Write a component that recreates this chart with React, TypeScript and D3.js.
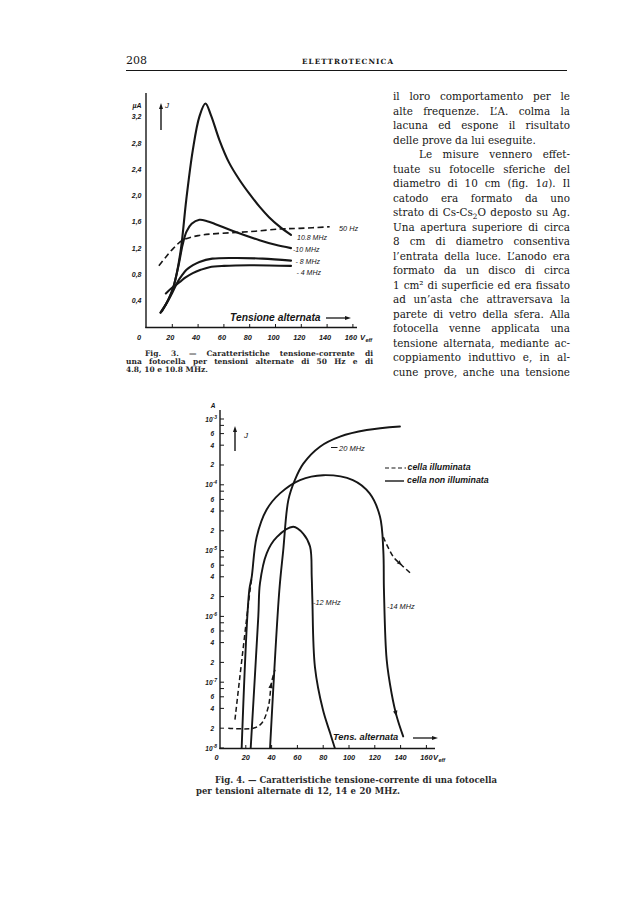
import React from 'react';
import * as d3 from 'd3';

type P = [number, number];

// ---------------- DATA ----------------
const HEADER_PAGE = '208';
const HEADER_TITLE = 'ELETTROTECNICA';

const X_TICKS = [0, 20, 40, 60, 80, 100, 120, 140, 160];

// Fig. 3 (linear, µA)
const F3_Y_TICKS = [0.4, 0.8, 1.2, 1.6, 2.0, 2.4, 2.8, 3.2];
const F3_Y_LABELS = ['0,4', '0,8', '1,2', '1,6', '2,0', '2,4', '2,8', '3,2'];

const F3_10_8: P[] = [[10.9, 0.22], [16, 0.38], [20, 0.55], [23.5, 0.82], [26.9, 1.22], [30.8, 1.93], [35.9, 2.69], [41, 3.2], [45.7, 3.4], [50, 3.22], [56.6, 2.84], [64, 2.5], [72, 2.24], [80, 2.02], [87.6, 1.83], [95, 1.67], [103, 1.53], [112, 1.4]];
const F3_10: P[] = [[12, 0.24], [17, 0.42], [21, 0.62], [25, 0.95], [28, 1.25], [31, 1.45], [35, 1.57], [41, 1.63], [47, 1.61], [54, 1.56], [67, 1.46], [87.6, 1.32], [100, 1.25], [112, 1.2]];
const F3_8: P[] = [[10.9, 0.22], [15, 0.34], [20, 0.52], [24, 0.68], [28, 0.8], [31, 0.87], [36, 0.94], [41, 0.99], [51, 1.04], [70, 1.05], [90, 1.04], [112, 1.01]];
const F3_4: P[] = [[15, 0.51], [20, 0.6], [25.6, 0.68], [30, 0.75], [35.9, 0.82], [42, 0.87], [48.8, 0.91], [60, 0.93], [80, 0.94], [112, 0.93]];
const F3_50HZ: P[] = [[9.6, 0.93], [15.2, 1.07], [21, 1.2], [28, 1.32], [40, 1.39], [54, 1.42], [80, 1.45], [103, 1.49], [118.6, 1.5], [142, 1.525]];
const F3_LABELS = ['50 Hz', '10.8 MHz', '-10 MHz', '- 8 MHz', '- 4 MHz'];

// Fig. 4 (log, A)
const F4_DECADES = [-8, -7, -6, -5, -4, -3];
const F4_MINOR = [2, 4, 6, 8];
const F4_MINOR_LABELED = [2, 4, 6];

const F4_14: P[] = [[16.8, 1e-8], [22.7, 2.5e-6], [24.6, 4e-6], [28.4, 1.6e-5], [36.2, 4.2e-5], [46.5, 7.4e-5], [62, 1.18e-4], [80, 1.4e-4], [103, 1.18e-4], [116, 7.4e-5], [124, 3.3e-5], [126.6, 1e-5], [127.1, 2.5e-6], [129.2, 2.2e-7], [133, 6.8e-8], [137, 3e-8], [142, 1.5e-8]];
const F4_12: P[] = [[23.8, 1e-8], [29.7, 1e-6], [31, 3.2e-6], [36.2, 9.1e-6], [44, 1.6e-5], [56.8, 2.3e-5], [64.6, 1.8e-5], [69.8, 1.15e-5], [71.1, 4e-6], [71.6, 1.8e-6], [73.6, 1.7e-7], [79.8, 3.8e-8], [85.3, 1.7e-8], [89, 1e-8]];
const F4_20: P[] = [[38.8, 1e-8], [46, 2.5e-6], [49, 1e-5], [53, 5.9e-5], [58, 1.18e-4], [64.6, 2.1e-4], [77.5, 3.8e-4], [93, 5.4e-4], [113.7, 6.8e-4], [139.5, 7.7e-4]];
const F4_14_ILL_L: P[] = [[11.6, 2.7e-8], [23.3, 2.5e-6], [24.8, 4e-6]];
const F4_20_ILL: P[] = [[6.4, 2e-8], [25.8, 2e-8], [32.3, 2.37e-8], [37.4, 4.2e-8], [40, 1e-7], [42.6, 1.55e-7]];
const F4_14_ILL_R: P[] = [[126.6, 1.6e-5], [134.3, 8.1e-6], [140.9, 6e-6], [147.3, 4.6e-6]];
const F4_LEGEND = ['cella illuminata', 'cella non illuminata'];

// Text
const BODY = [
  'il loro comportamento per le',
  'alte frequenze. L’A. colma la',
  'lacuna ed espone il risultato',
  'delle prove da lui eseguite.',
  'Le misure vennero effet-',
  'tuate su fotocelle sferiche del',
  'diametro di 10 cm (fig. 1_a_). Il',
  'catodo era formato da uno',
  'strato di Cs-Cs~2~O deposto su Ag.',
  'Una apertura superiore di circa',
  '8 cm di diametro consentiva',
  'l’entrata della luce. L’anodo era',
  'formato da un disco di circa',
  '1 cm² di superficie ed era fissato',
  'ad un’asta che attraversava la',
  'parete di vetro della sfera. Alla',
  'fotocella venne applicata una',
  'tensione alternata, mediante ac-',
  'coppiamento induttivo e, in al-',
  'cune prove, anche una tensione',
];
const CAPTION3 = [
  'Fig. 3. — Caratteristiche tensione-corrente di',
  'una fotocella per tensioni alternate di 50 Hz e di',
  '4.8, 10 e 10.8 MHz.',
];
const CAPTION4 = [
  'Fig. 4. — Caratteristiche tensione-corrente di una fotocella',
  'per tensioni alternate di 12, 14 e 20 MHz.',
];

// ---------------- HELPERS ----------------
const INK = '#161616';
const SERIF_NAME = 'DejaVu Serif';
const SERIF = "'DejaVu Serif', 'Liberation Serif', serif";
const SANS = "'Liberation Sans', 'DejaVu Sans', sans-serif";

let ctx: CanvasRenderingContext2D | null = null;
function measure(t: string, font: string) {
  if (!ctx) ctx = document.createElement('canvas').getContext('2d');
  ctx!.font = font;
  return ctx!.measureText(t).width;
}

type Run = { t: string; k: 'n' | 'i' | 'sub' | 'sup' };
function parseRuns(word: string): Run[] {
  return word
    .split(/(_[^_]+_|~[^~]+~|\^[^^]+\^)/)
    .filter((s) => s.length)
    .map((p) => {
      if (p.length > 2 && p[0] === '_' && p[p.length - 1] === '_') return { t: p.slice(1, -1), k: 'i' as const };
      if (p.length > 2 && p[0] === '~') return { t: p.slice(1, -1), k: 'sub' as const };
      if (p.length > 2 && p[0] === '^') return { t: p.slice(1, -1), k: 'sup' as const };
      return { t: p, k: 'n' as const };
    });
}

function runFont(r: Run, size: number, weight: string) {
  const s = r.k === 'sub' || r.k === 'sup' ? size * 0.7 : size;
  const st = r.k === 'i' ? 'italic' : 'normal';
  return `${st} ${weight} ${s}px '${SERIF_NAME}'`;
}

function Line(props: { text: string; x0: number; x1: number; y: number; size: number; weight?: string; justify?: boolean; fill?: string }) {
  const { text, x0, x1, y, justify } = props;
  let size = props.size;
  const weight = props.weight || 'normal';
  const words = text.split(' ');
  const parsed = words.map(parseRuns);
  const calc = (s: number) => {
    const widths = parsed.map((runs) => runs.reduce((a, r) => a + measure(r.t, runFont(r, s, weight)), 0));
    const total = widths.reduce((a, b) => a + b, 0);
    const space = measure(' ', `normal ${weight} ${s}px '${SERIF_NAME}'`);
    return { widths, total, space };
  };
  let m = calc(size);
  const minGap = m.space * 0.7;
  const need = m.total + minGap * (words.length - 1);
  if (need > x1 - x0) {
    size = size * ((x1 - x0) / need);
    m = calc(size);
  }
  const gap = justify && words.length > 1 ? (x1 - x0 - m.total) / (words.length - 1) : m.space;
  let cx = x0;
  return (
    <g fontFamily={SERIF} fontSize={size} fontWeight={weight} fill={props.fill || INK}>
      {parsed.map((runs, i) => {
        const xx = cx;
        cx += m.widths[i] + gap;
        let off = 0;
        return (
          <text key={i} x={xx} y={y}>
            {runs.map((r, j) => {
              let target = 0;
              if (r.k === 'sub') target = size * 0.28;
              if (r.k === 'sup') target = -size * 0.38;
              const dy = target - off;
              off = target;
              return (
                <tspan key={j} dy={dy} fontStyle={r.k === 'i' ? 'italic' : 'normal'} fontSize={r.k === 'sub' || r.k === 'sup' ? size * 0.7 : size}>
                  {r.t}
                </tspan>
              );
            })}
          </text>
        );
      })}
    </g>
  );
}

function arrowHead(x: number, y: number, ang: number, len = 5, w = 2.2) {
  const bx = x - Math.cos(ang) * len;
  const by = y - Math.sin(ang) * len;
  const nx = -Math.sin(ang) * w;
  const ny = Math.cos(ang) * w;
  return `${x},${y} ${bx + nx},${by + ny} ${bx - nx},${by - ny}`;
}

// ---------------- FIG 3 ----------------
function Fig3() {
  const x = d3.scaleLinear().domain([0, 160]).range([146.5, 352.9]);
  const y = d3.scaleLinear().domain([0, 3.2]).range([327, 116.6]);
  const line = d3
    .line<P>()
    .x((d) => x(d[0]))
    .y((d) => y(d[1]))
    .curve(d3.curveCatmullRom.alpha(0.5));
  const lab = { fontFamily: SANS, fontStyle: 'italic', fill: INK } as const;
  return (
    <g>
      <line x1={146} y1={93} x2={146} y2={328} stroke={INK} strokeWidth={1.4} />
      <line x1={145.3} y1={327.5} x2={357} y2={327.5} stroke={INK} strokeWidth={1.4} />
      {X_TICKS.filter((v) => v > 0).map((v) => (
        <line key={v} x1={x(v)} x2={x(v)} y1={327.5} y2={324} stroke={INK} strokeWidth={1} />
      ))}
      {X_TICKS.map((v) => (
        <text key={v} x={v === 0 ? 139 : x(v) - 2} y={339.5} textAnchor="middle" fontSize={7.3} fontWeight="bold" {...lab}>
          {v}
        </text>
      ))}
      <text x={360} y={339.5} fontSize={7.5} fontWeight="bold" {...lab}>V</text>
      <text x={365.5} y={341.5} fontSize={5.5} fontWeight="bold" {...lab}>eff</text>
      {F3_Y_TICKS.map((v, i) => (
        <text key={v} x={141.5} y={y(v) + 2.6} textAnchor="end" fontSize={7} fontWeight="bold" {...lab}>
          {F3_Y_LABELS[i]}
        </text>
      ))}
      <text x={141.5} y={107.5} textAnchor="end" fontSize={7} fontWeight="bold" {...lab}>µA</text>
      <line x1={161} y1={130} x2={161} y2={108} stroke={INK} strokeWidth={1.4} />
      <polygon points={arrowHead(161, 103, -Math.PI / 2, 6, 2)} fill={INK} />
      <text x={165} y={108} fontSize={8} {...lab}>J</text>

      {[F3_10_8, F3_10, F3_8, F3_4].map((d, i) => (
        <path key={i} d={line(d) || ''} fill="none" stroke={INK} strokeWidth={2.1} strokeLinecap="round" strokeLinejoin="round" />
      ))}
      <path d={line(F3_50HZ) || ''} fill="none" stroke={INK} strokeWidth={1.6} strokeDasharray="6,3.5" />

      <text x={339} y={230.5} fontSize={7.3} {...lab}>{F3_LABELS[0]}</text>
      <text x={297} y={239.5} fontSize={7} {...lab}>{F3_LABELS[1]}</text>
      <text x={293} y={251.5} fontSize={7} {...lab}>{F3_LABELS[2]}</text>
      <text x={295.5} y={264} fontSize={7} {...lab}>{F3_LABELS[3]}</text>
      <text x={296.5} y={275} fontSize={7} {...lab}>{F3_LABELS[4]}</text>

      <text x={230} y={320.5} fontSize={10.3} fontWeight="bold" {...lab}>Tensione alternata</text>
      <line x1={326} y1={318} x2={346} y2={318} stroke={INK} strokeWidth={1.3} />
      <polygon points={arrowHead(351, 318, 0, 6, 2)} fill={INK} />
    </g>
  );
}

// ---------------- FIG 4 ----------------
function Fig4() {
  const x = d3.scaleLinear().domain([0, 160]).range([220, 426.4]);
  const y = d3.scaleLog().domain([1e-8, 1e-3]).range([748, 419]);
  const line = d3
    .line<P>()
    .x((d) => x(d[0]))
    .y((d) => y(d[1]))
    .curve(d3.curveCatmullRom.alpha(0.5));
  const lab = { fontFamily: SANS, fontStyle: 'italic', fill: INK } as const;
  const ticks: number[] = [];
  F4_DECADES.forEach((dd) => {
    ticks.push(Math.pow(10, dd));
    if (dd < -3) F4_MINOR.forEach((m) => ticks.push(m * Math.pow(10, dd)));
  });
  const ang = (d: P[], i: number) => Math.atan2(y(d[i + 1][1]) - y(d[i - 1][1]), x(d[i + 1][0]) - x(d[i - 1][0]));
  return (
    <g>
      <line x1={220} y1={410} x2={220} y2={749} stroke={INK} strokeWidth={1.4} />
      <line x1={219.3} y1={748.5} x2={435} y2={748.5} stroke={INK} strokeWidth={1.4} />
      {ticks.map((t, i) => (
        <line key={i} x1={220} x2={224} y1={y(t)} y2={y(t)} stroke={INK} strokeWidth={1} />
      ))}
      {X_TICKS.filter((v) => v > 0).map((v) => (
        <line key={v} x1={x(v)} x2={x(v)} y1={748.5} y2={745} stroke={INK} strokeWidth={1} />
      ))}
      {X_TICKS.map((v) => (
        <text key={v} x={v === 0 ? 216.5 : x(v)} y={760} textAnchor="middle" fontSize={7.3} fontWeight="bold" {...lab}>
          {v}
        </text>
      ))}
      <text x={433} y={760} fontSize={7.5} fontWeight="bold" {...lab}>V</text>
      <text x={438.5} y={762} fontSize={5.5} fontWeight="bold" {...lab}>eff</text>
      {F4_DECADES.map((dd) => (
        <text key={dd} x={217} y={y(Math.pow(10, dd)) + 2.5} textAnchor="end" fontSize={6.5} fontWeight="bold" {...lab}>
          10
          <tspan dy={-3} fontSize={5}>{`-${-dd}`}</tspan>
        </text>
      ))}
      {F4_DECADES.filter((dd) => dd < -3).map((dd) =>
        F4_MINOR_LABELED.map((m) => (
          <text key={`${dd}-${m}`} x={214} y={y(m * Math.pow(10, dd)) + 2.5} textAnchor="end" fontSize={6.5} fontWeight="bold" {...lab}>
            {m}
          </text>
        ))
      )}
      <text x={213} y={408} textAnchor="middle" fontSize={6.5} fontWeight="bold" {...lab}>A</text>
      <line x1={235} y1={451} x2={235} y2={431} stroke={INK} strokeWidth={1.4} />
      <polygon points={arrowHead(235, 426, -Math.PI / 2, 6, 2)} fill={INK} />
      <text x={244} y={438} fontSize={8} {...lab}>J</text>

      {[F4_14, F4_12, F4_20].map((d, i) => (
        <path key={i} d={line(d) || ''} fill="none" stroke={INK} strokeWidth={1.9} strokeLinecap="round" strokeLinejoin="round" />
      ))}
      {[F4_14_ILL_L, F4_20_ILL, F4_14_ILL_R].map((d, i) => (
        <path key={i} d={line(d) || ''} fill="none" stroke={INK} strokeWidth={1.5} strokeDasharray="5,3" />
      ))}
      <polygon points={arrowHead(x(F4_14[15][0]), y(F4_14[15][1]), ang(F4_14, 15), 6, 2.2)} fill={INK} />
      <polygon points={arrowHead(x(F4_20_ILL[4][0]), y(F4_20_ILL[4][1]), ang(F4_20_ILL, 4), 6, 2.2)} fill={INK} />
      <polygon points={arrowHead(x(F4_14_ILL_R[2][0]), y(F4_14_ILL_R[2][1]), ang(F4_14_ILL_R, 2), 5, 2)} fill={INK} />

      <line x1={331} x2={337.5} y1={447.5} y2={447.5} stroke={INK} strokeWidth={1} />
      <text x={339} y={450.5} fontSize={7.5} {...lab}>20 MHz</text>
      <text x={313} y={604.5} fontSize={7.3} {...lab}>-12 MHz</text>
      <text x={387} y={609} fontSize={7.3} {...lab}>-14 MHz</text>

      <line x1={385} x2={406} y1={468} y2={468} stroke={INK} strokeWidth={1.2} strokeDasharray="4,2.5" />
      <text x={407.5} y={470} fontSize={8.8} fontWeight="bold" {...lab}>{F4_LEGEND[0]}</text>
      <line x1={385} x2={404} y1={481} y2={481} stroke={INK} strokeWidth={1.4} />
      <text x={407} y={482.5} fontSize={8.8} fontWeight="bold" {...lab}>{F4_LEGEND[1]}</text>

      <text x={333} y={740} fontSize={9.3} fontWeight="bold" {...lab}>Tens. alternata</text>
      <line x1={413} y1={738} x2={433} y2={738} stroke={INK} strokeWidth={1.3} />
      <polygon points={arrowHead(438, 738, 0, 6, 2)} fill={INK} />
    </g>
  );
}

export default function App() {
  return (
    <svg width={629} height={900} viewBox="0 0 629 900" style={{ position: 'absolute', left: 0, top: 0, display: 'block' }}>
      <rect width={629} height={900} fill="#ffffff" />
      {/* header */}
      <text x={126} y={64} fontFamily={SERIF} fontSize={11} fill={INK}>{HEADER_PAGE}</text>
      <text x={302} y={63.5} fontFamily={SERIF} fontSize={7.2} fontWeight="bold" fill={INK} textLength={91} lengthAdjust="spacing">
        {HEADER_TITLE}
      </text>
      <line x1={126} x2={567} y1={70.5} y2={70.5} stroke={INK} strokeWidth={1.1} />

      <Fig3 />
      {CAPTION3.map((t, i) => (
        <Line key={i} text={t} x0={i === 0 ? 145 : 126} x1={373} y={355.5 + i * 8.4} size={7.5} weight="bold" justify={i < 2} fill="#2a2a2a" />
      ))}

      {BODY.map((t, i) => (
        <Line key={i} text={t} x0={i === 4 ? 419 : 393} x1={570} y={100 + i * 14.5} size={10.4} justify={i !== 3} />
      ))}

      <Fig4 />
      {CAPTION4.map((t, i) => (
        <Line key={i} text={t} x0={i === 0 ? 215 : 196} x1={i === 0 ? 497 : 400} y={783 + i * 11} size={8.5} weight="bold" justify={true} fill="#2a2a2a" />
      ))}
    </svg>
  );
}
